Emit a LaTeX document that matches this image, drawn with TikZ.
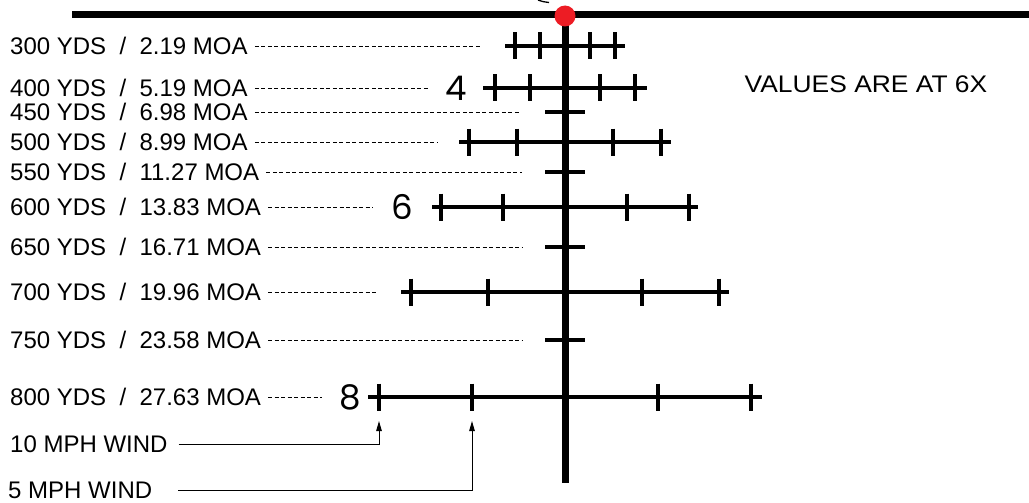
\documentclass[tikz,border=0pt]{standalone}
\usepackage{fontspec}
\setmainfont{Liberation Sans}
\newfontfamily\notefont{Liberation Sans}[FakeStretch=1.1]
\newfontfamily\digitfont{Poppins}
\usetikzlibrary{arrows.meta}

\definecolor{dotred}{RGB}{237,28,36}

\tikzset{
    rangelabel/.style={anchor=west, inner sep=0pt, text height=17.2pt, text depth=0pt,
        font=\fontsize{24}{26}\selectfont},
    leader/.style={line width=0.9pt, dash pattern=on 4pt off 2.5pt},
    stadia/.style={line width=4pt},
    windline/.style={line width=1pt, -{Triangle[length=10pt,width=5.5pt]}},
    bignum/.style={inner sep=0pt, font=\digitfont\fontsize{34}{34}\selectfont}
}

\begin{document}
\begin{tikzpicture}[x=1pt, y=-1pt]
\useasboundingbox (0,0) rectangle (1029,503);

% The thick top post of the reticle and the small piece of the ring above it.
\draw [line width=7pt] (72,15) -- (1029,15);
\draw [line width=1.3pt] (538,0) .. controls (542,1.5) .. (549,2.5);

% The vertical post running down from the centre dot.
\draw [line width=7pt] (565,15) -- (565,483);

% Range labels, each with a leader line running to the reticle.
\foreach \y/\yds/\moa/\dashend in {46/300/2.19/482, 88/400/5.19/428, 112/450/6.98/520,
        142/500/8.99/437, 172/550/11.27/522, 207/600/13.83/373, 247/650/16.71/523,
        292/700/19.96/378, 340/750/23.58/522, 397/800/27.63/322} {
    \node [rangelabel] (r\yds) at (10,\y) {\yds{} YDS~~/~~\moa{} MOA};
    \coordinate (d\yds) at (\dashend,\y);
    \draw [leader] ([xshift=7pt]r\yds.east) -- (d\yds);
}

% Long stadia lines with wind ticks (inner tick = 5 mph, outer tick = 10 mph).
\foreach \y/\t/\e in {46/25/60, 88/35/82, 142/48/106, 207/62/133, 292/77/164, 397/93/197} {
    \draw [stadia] (565-\e,\y) -- (565+\e,\y);
    \foreach \s in {-2,-1,1,2}
        \draw [stadia] (565+\s*\t,\y-13.5) -- (565+\s*\t,\y+13.5);
}

% Short marks for the ranges in between.
\foreach \y in {112, 172, 247, 340}
    \draw [stadia] (545,\y) -- (585,\y);

% Big numbers next to some of the stadia lines.
\node [bignum] (n4) at (456,88) {4};
\node [bignum] (n6) at (402,207) {6};
\node [bignum] (n8) at (350,397) {8};

% Red centre dot on top of everything.
\fill [dotred] (565,16) circle (10.5);

\node [rangelabel, anchor=center, font=\notefont\fontsize{24}{26}\selectfont] (note) at (866,83.5) {VALUES ARE AT 6X};

% Wind callouts pointing at the ticks of the 800 yard line.
\node [rangelabel] (w10) at (10,444) {10 MPH WIND};
\node [rangelabel] (w5) at (8,490) {5 MPH WIND};
\coordinate (t10) at (379,421);
\coordinate (t5) at (472,421);
\draw [windline] ([xshift=11pt]w10.east) -| (t10);
\draw [windline] ([xshift=26pt]w5.east) -| (t5);
\end{tikzpicture}
\end{document}
